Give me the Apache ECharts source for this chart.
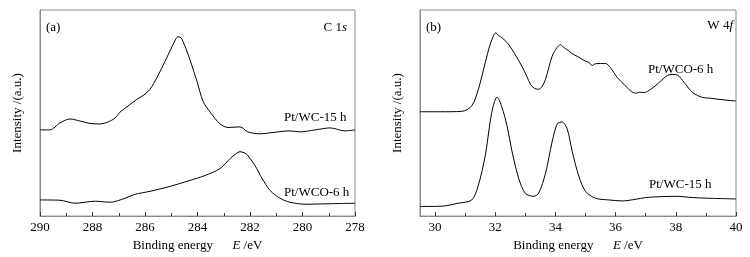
<!DOCTYPE html>
<html>
<head>
<meta charset="utf-8">
<script src="https://cdn.jsdelivr.net/npm/echarts@6/dist/echarts.min.js"></script>
<style>html,body{margin:0;padding:0;background:#fff;}#c{width:750px;height:257px;}</style>
</head>
<body>
<div id="c"></div>
<script>
// Panel (a): C 1s, binding energy (eV) vs intensity (a.u.)
const c1sWC15 = [
 [290.00,87],[289.62,87],[289.24,94],[288.86,98],[288.48,96],[288.10,93.5],[287.71,93],[287.41,95],
 [287.14,99],[286.95,105],[286.65,111],[286.30,118],[286.00,123],[285.81,128],[285.54,140],[285.24,156],
 [284.97,171],[284.82,179],[284.74,181],[284.63,180],[284.55,176],[284.44,169],[284.29,158],[284.02,136],
 [283.79,116],[283.52,105],[283.14,93],[282.84,89.5],[282.38,90],[282.08,85],[281.62,83],[281.24,84],
 [280.48,86],[280.10,85],[279.52,87],[278.95,89],[278.38,86],[278.00,87]
];
const c1sWCO6 = [
 [290.00,16.3],[289.24,16],[288.67,13],[287.90,15],[287.33,14],[286.76,18],[286.38,22],[285.81,25],
 [285.05,30],[284.29,36],[283.71,41],[283.14,48],[282.76,58],[282.53,63],[282.38,65],[282.23,64],
 [282.11,62],[281.81,51],[281.54,38],[281.24,26],[280.86,18],[280.48,14],[279.90,12],[278.95,12.5],[278.00,13]
];
// Panel (b): W 4f
const w4fWCO6 = [
 [29.50,105.3],[30.17,105.3],[30.89,105.7],[31.22,111.3],[31.44,128],[31.67,155],[31.83,173],[32.02,185],
 [32.12,182],[32.22,180],[32.40,175],[32.56,168],[32.72,160],[32.89,151],[33.05,141],[33.17,133],[33.30,129],
 [33.44,128],[33.56,131],[33.67,138],[33.89,161.3],[34.05,170],[34.17,173],[34.28,170],[34.39,168],[34.55,164],
 [34.72,161.3],[34.85,159],[35.00,156.3],[35.12,155],[35.22,152],[35.33,153.7],[35.50,154],[35.67,154],
 [35.83,149.7],[36.06,139.7],[36.28,133],[36.50,126.3],[36.67,124],[36.80,125],[36.94,124.7],[37.17,128],
 [37.44,134.7],[37.72,142],[37.90,143],[38.06,142.3],[38.28,134.7],[38.56,124.7],[38.89,119.7],[39.15,119],
 [39.39,118],[39.70,117],[39.94,116.3],[40.00,116.5]
];
const w4fWC15 = [
 [29.50,9.7],[30.22,10],[30.77,13],[31.22,16.3],[31.44,31.3],[31.67,61.3],[31.83,95],[31.94,112],[32.06,120],
 [32.22,110],[32.39,91.3],[32.56,65],[32.78,38],[33.00,23],[33.28,20],[33.44,23],[33.67,43],[33.89,75],
 [34.06,93],[34.22,95],[34.39,88],[34.56,65],[34.78,40],[35.00,25],[35.33,18],[35.78,16.3],[36.22,15.3],
 [36.67,17],[37.00,18.7],[37.56,19.7],[38.00,20],[38.56,18.7],[39.11,18],[40.00,17.3]
];
const ticksA = [278,280,282,284,286,288,290];
const minorA = [279,281,283,285,287,289];
const ticksB = [30,32,34,36,38,40];
const minorB = [31,33,35,37,39];

const FONT = 'Liberation Serif';
const gray = '#8a8a8a';
const chart = echarts.init(document.getElementById('c'), null, {renderer:'canvas'});

function mainX(grid, min, max, inverse, ticks){
  return {
    type:'value', gridIndex:grid, min:min, max:max, inverse:inverse, position:'bottom',
    axisLine:{show:true, lineStyle:{color:gray, width:1}},
    axisTick:{show:true, inside:true, length:4, customValues:ticks, lineStyle:{color:'#333'}},
    axisLabel:{show:true, customValues:ticks, margin:5, color:'#000', fontFamily:FONT, fontSize:13},
    splitLine:{show:false},
    name:'{a|Binding energy}      {b|E} {a|/eV}',
    nameLocation:'middle', nameGap:18,
    nameTextStyle:{fontFamily:FONT, fontSize:13, color:'#000',
      rich:{a:{fontFamily:FONT,fontSize:13,color:'#000'},b:{fontFamily:FONT,fontSize:13,fontStyle:'italic',color:'#000'}}}
  };
}
function minorX(grid, min, max, inverse, ticks){
  return {
    type:'value', gridIndex:grid, min:min, max:max, inverse:inverse, position:'bottom', offset:0,
    axisLine:{show:false},
    axisTick:{show:true, inside:true, length:3, customValues:ticks, lineStyle:{color:'#333'}},
    axisLabel:{show:false}, splitLine:{show:false}
  };
}
function yAx(grid){
  return {
    type:'value', gridIndex:grid, min:0, max:208,
    axisLine:{show:true, lineStyle:{color:gray}}, axisTick:{show:false}, axisLabel:{show:false}, splitLine:{show:false},
    name:'Intensity /(a.u.)', nameLocation:'middle', nameGap:16,
    nameTextStyle:{fontFamily:FONT, fontSize:13, color:'#000'}
  };
}
function line(data, xi, yi){
  return {type:'line', xAxisIndex:xi, yAxisIndex:yi, data:data, showSymbol:false, smooth:0.3,
    lineStyle:{color:'#000', width:1}, silent:true, animation:false};
}
function txt(x, y, parts, align){
  return {type:'text', x:x, y:y, style:{text:parts, align:align||'left', verticalAlign:'middle',
    fontFamily:FONT, fontSize:13, fill:'#000',
    rich:{i:{fontFamily:FONT,fontSize:13,fontStyle:'italic',fill:'#000'}}}};
}

chart.setOption({
  animation:false,
  backgroundColor:'#fff',
  grid:[
    {left:40, top:10, width:315, height:208, show:true, borderColor:gray, borderWidth:1},
    {left:420, top:10, width:316, height:208, show:true, borderColor:gray, borderWidth:1}
  ],
  xAxis:[
    mainX(0, 278, 290, true, ticksA),
    mainX(1, 29.5, 40, false, ticksB),
    minorX(0, 278, 290, true, minorA),
    minorX(1, 29.5, 40, false, minorB)
  ],
  yAxis:[yAx(0), yAx(1)],
  series:[
    line(c1sWC15, 0, 0), line(c1sWCO6, 0, 0),
    line(w4fWCO6, 1, 1), line(w4fWC15, 1, 1)
  ],
  graphic:[
    txt(46, 28, '(a)'),
    txt(347, 28, 'C 1{i|s}', 'right'),
    txt(426, 28, '(b)'),
    txt(733, 26, 'W 4{i|f}', 'right'),
    txt(284, 118, 'Pt/WC-15 h'),
    txt(284, 193, 'Pt/WCO-6 h'),
    txt(648, 70, 'Pt/WCO-6 h'),
    txt(649, 185, 'Pt/WC-15 h')
  ]
});
</script>
</body>
</html>
